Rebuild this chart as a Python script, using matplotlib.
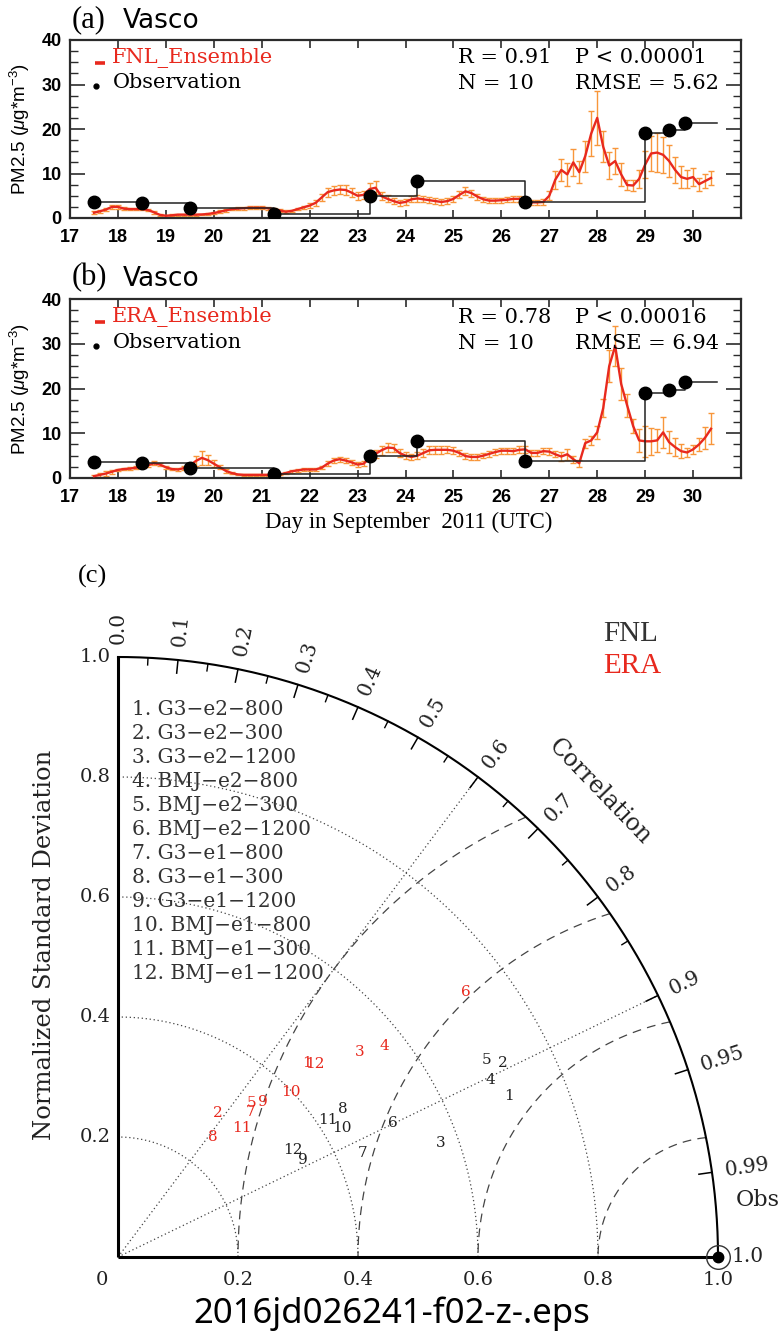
import numpy as np
import matplotlib
matplotlib.use('Agg')
import matplotlib.pyplot as plt
from matplotlib.ticker import MultipleLocator

plt.rcParams['mathtext.fontset'] = 'custom'
plt.rcParams['mathtext.rm'] = 'Liberation Sans'
plt.rcParams['mathtext.it'] = 'Liberation Sans:italic'

# ---------------- data: time series (3-hourly ensemble mean / spread) ----------------
t_start, t_step, n_pts = 17.5, 0.125, 104
fnl_mean = [1.2, 1.5, 1.9, 2.5, 2.5, 2.1, 2.0, 2.0,
            2.0, 1.8, 1.3, 0.7, 0.5, 0.6, 0.75, 0.75,
            0.75, 0.75, 0.8, 0.9, 1.1, 1.4, 1.7, 2.0,
            2.1, 2.2, 2.3, 2.3, 2.3, 2.2, 2.0, 1.7,
            1.4, 1.6, 2.0, 2.4, 2.8, 3.4, 4.6, 5.8,
            6.2, 6.4, 6.3, 5.7, 5.0, 5.2, 6.5, 6.8,
            4.9, 4.3, 3.8, 3.4, 3.6, 4.2, 4.4, 4.2,
            4.0, 3.8, 3.6, 3.8, 4.3, 5.2, 6.0, 5.6,
            4.8, 4.2, 3.9, 3.9, 4.0, 4.1, 4.3, 4.3,
            3.8, 3.5, 3.5, 3.6, 5.0, 8.6, 10.8, 9.8,
            12.5, 10.3, 13.9, 19.0, 22.5, 16.0, 11.8, 12.8,
            9.8, 7.4, 7.3, 8.8, 12.0, 14.5, 14.7, 14.2,
            12.8, 10.8, 9.2, 8.8, 9.2, 7.6, 8.3, 9.0]
fnl_err = [0.3, 0.3, 0.4, 0.5, 0.5, 0.4, 0.3, 0.3,
           0.3, 0.3, 0.3, 0.3, 0.2, 0.2, 0.2, 0.2,
           0.2, 0.2, 0.2, 0.2, 0.2, 0.3, 0.3, 0.3,
           0.3, 0.3, 0.3, 0.3, 0.3, 0.3, 0.3, 0.3,
           0.3, 0.3, 0.3, 0.4, 0.5, 0.6, 0.8, 1.0,
           1.1, 1.1, 1.1, 1.0, 0.9, 0.9, 1.3, 1.5,
           0.9, 0.8, 0.7, 0.6, 0.6, 0.7, 0.7, 0.7,
           0.7, 0.7, 0.7, 0.7, 0.7, 0.8, 0.9, 0.8,
           0.7, 0.6, 0.6, 0.6, 0.6, 0.6, 0.6, 0.6,
           0.6, 0.6, 0.6, 0.6, 1.0, 2.0, 2.5, 2.5,
           3.0, 2.5, 3.5, 5.0, 6.0, 3.5, 3.0, 3.0,
           2.5, 1.2, 1.2, 2.0, 3.0, 4.0, 4.3, 4.0,
           3.5, 3.0, 2.5, 2.0, 2.0, 1.5, 1.5, 1.5]
era_mean = [0.4, 0.7, 1.0, 1.4, 1.8, 2.0, 2.1, 2.3,
            2.5, 2.8, 3.3, 3.0, 2.4, 2.0, 1.9, 2.2,
            2.8, 3.8, 4.5, 4.0, 3.2, 2.4, 1.6, 1.1,
            0.8, 0.7, 0.7, 0.7, 0.7, 0.7, 0.7, 0.8,
            1.1, 1.5, 1.7, 1.9, 1.9, 1.9, 2.3, 3.2,
            3.9, 4.2, 3.9, 3.5, 3.0, 3.2, 4.4, 5.4,
            6.2, 6.8, 6.7, 5.6, 5.0, 4.7, 5.0, 5.6,
            6.2, 6.3, 6.3, 6.3, 6.1, 5.6, 4.9, 4.7,
            4.7, 5.0, 5.4, 5.8, 6.1, 6.1, 6.0, 6.3,
            6.4, 5.6, 5.6, 6.0, 5.9, 5.3, 4.8, 5.3,
            4.2, 3.3, 7.8, 8.4, 10.2, 15.6, 25.0, 29.5,
            21.0, 16.2, 11.6, 8.4, 8.2, 8.2, 8.4, 10.2,
            8.0, 6.9, 6.0, 5.7, 6.4, 7.5, 9.0, 11.0]
era_err = [0.3, 0.4, 0.5, 0.4, 0.3, 0.3, 0.3, 0.3,
           0.3, 0.4, 0.5, 0.4, 0.3, 0.3, 0.3, 0.4,
           0.6, 1.2, 1.5, 1.2, 0.8, 0.5, 0.4, 0.3,
           0.2, 0.2, 0.2, 0.2, 0.2, 0.2, 0.2, 0.2,
           0.2, 0.3, 0.3, 0.3, 0.3, 0.3, 0.4, 0.5,
           0.6, 0.6, 0.6, 0.5, 0.5, 0.5, 0.7, 0.9,
           1.0, 1.1, 1.0, 0.8, 0.7, 0.7, 0.7, 0.8,
           0.9, 0.9, 0.9, 0.8, 0.8, 0.7, 0.6, 0.6,
           0.6, 0.6, 0.6, 0.7, 0.7, 0.7, 0.7, 0.8,
           0.8, 0.7, 0.7, 0.7, 0.7, 0.7, 1.0, 1.2,
           0.8, 0.8, 1.0, 1.0, 1.5, 2.0, 3.5, 4.5,
           3.5, 2.5, 1.5, 2.5, 3.5, 3.0, 2.5, 3.5,
           2.5, 2.0, 1.5, 1.0, 1.0, 1.5, 2.5, 3.5]

obs_day = [17.5, 18.5, 19.5, 21.25, 23.25, 24.25, 26.5, 29.0, 29.5, 29.83]
obs_val = [3.6, 3.3, 2.3, 1.0, 5.0, 8.3, 3.7, 19.1, 19.7, 21.4]
obs_end = 30.5

day_ticks = list(range(17, 31))
panel_titles = ['(a)', '(b)']
ens_names = ['FNL_Ensemble', 'ERA_Ensemble']
stats_left = [['R = 0.91', 'N = 10'], ['R = 0.78', 'N = 10']]
stats_right = [['P < 0.00001', 'RMSE = 5.62'], ['P < 0.00016', 'RMSE = 6.94']]

# ---------------- data: Taylor diagram ----------------
fnl_std = [0.705, 0.719, 0.571, 0.687, 0.697, 0.509, 0.443, 0.449, 0.348, 0.431, 0.418, 0.342]
fnl_corr = [0.925, 0.893, 0.943, 0.903, 0.882, 0.899, 0.921, 0.835, 0.885, 0.866, 0.838, 0.854]
era_std = [0.451, 0.292, 0.528, 0.567, 0.340, 0.729, 0.328, 0.255, 0.354, 0.398, 0.298, 0.460]
era_corr = [0.698, 0.571, 0.762, 0.784, 0.654, 0.795, 0.676, 0.620, 0.684, 0.722, 0.694, 0.714]
exp_names = ['G3\u2212e2\u2212800', 'G3\u2212e2\u2212300', 'G3\u2212e2\u22121200',
             'BMJ\u2212e2\u2212800', 'BMJ\u2212e2\u2212300', 'BMJ\u2212e2\u22121200',
             'G3\u2212e1\u2212800', 'G3\u2212e1\u2212300', 'G3\u2212e1\u22121200',
             'BMJ\u2212e1\u2212800', 'BMJ\u2212e1\u2212300', 'BMJ\u2212e1\u22121200']
corr_major = [0.0, 0.1, 0.2, 0.3, 0.4, 0.5, 0.6, 0.7, 0.8, 0.9, 0.95, 0.99, 1.0]
corr_major_lbl = ['0.0', '0.1', '0.2', '0.3', '0.4', '0.5', '0.6', '0.7', '0.8', '0.9', '0.95', '0.99', '1.0']
corr_minor = [0.05, 0.15, 0.25, 0.35, 0.45, 0.55, 0.65, 0.75, 0.85]
std_ticks = [0.2, 0.4, 0.6, 0.8, 1.0]
std_lbl = ['0.2', '0.4', '0.6', '0.8', '1.0']
std_arcs = [0.2, 0.4, 0.6, 0.8]
rms_arcs = [0.2, 0.4, 0.6, 0.8]
corr_rays = [0.6, 0.9]

# ---------------- figure ----------------
W, H = 781, 1339
fig = plt.figure(figsize=(W / 100, H / 100), dpi=100)
RED = '#E8291E'
ORANGE = '#F8963A'
FRAME = '#2b2b2b'
SERIF = 'DejaVu Serif'
TIMES = 'Liberation Serif'


def px_axes(left, top, right, bottom):
    return fig.add_axes([left / W, 1 - bottom / H, (right - left) / W, (bottom - top) / H])


t = t_start + t_step * np.arange(n_pts)
panels = [(px_axes(70, 40, 741, 218), fnl_mean, fnl_err),
          (px_axes(70, 299, 741, 478), era_mean, era_err)]

for i, (ax, mean, err) in enumerate(panels):
    ax.errorbar(t, mean, yerr=err, fmt='none', ecolor=ORANGE, elinewidth=1.0,
                capsize=2.2, capthick=1.0, zorder=2)
    ax.plot(t, mean, color=RED, lw=1.7, zorder=3)
    ax.step(obs_day + [obs_end], obs_val + [obs_val[-1]], where='post',
            color='#222222', lw=1.1, zorder=4)
    ax.plot(obs_day, obs_val, 'o', color='black', ms=9, zorder=5)
    ax.set_xlim(17, 31)
    ax.set_ylim(0, 40)
    ax.set_xticks(day_ticks)
    ax.set_yticks([0, 10, 20, 30, 40])
    ax.yaxis.set_minor_locator(MultipleLocator(2.5))
    ax.tick_params(axis='both', which='both', direction='in', top=True, right=True,
                   colors=FRAME, labelcolor='black')
    ax.tick_params(axis='x', which='major', length=6, width=1.2, pad=8)
    ax.tick_params(axis='y', which='major', length=11, width=1.2, pad=6)
    ax.tick_params(axis='y', which='minor', length=6, width=1.0)
    for lab in ax.get_xticklabels() + ax.get_yticklabels():
        lab.set_fontfamily('Liberation Sans')
        lab.set_fontweight('bold')
        lab.set_fontsize(13)
    for sp in ax.spines.values():
        sp.set_color(FRAME)
        sp.set_linewidth(1.6)
    ax.set_ylabel(r'PM2.5 ($\mu$g*m$^{-3}$)', fontsize=13.5, family='Liberation Sans')
    ax.yaxis.set_label_coords(-0.056, 0.5)

    # legend
    ax.plot([0.037, 0.052], [0.872, 0.872], transform=ax.transAxes, color=RED, lw=2.6,
            solid_capstyle='butt', clip_on=False)
    ax.text(0.062, 0.872, ens_names[i], transform=ax.transAxes, color=RED,
            fontsize=15, family=SERIF, va='baseline', ha='left')
    ax.plot([0.039], [0.74], 'o', transform=ax.transAxes, color='black', ms=3.5, clip_on=False)
    ax.text(0.064, 0.728, 'Observation', transform=ax.transAxes, color='black',
            fontsize=15, family=SERIF, va='baseline', ha='left')
    # statistics
    for j in range(2):
        yy = 0.868 - j * 0.145
        ax.text(0.578, yy, stats_left[i][j], transform=ax.transAxes, fontsize=15,
                family=SERIF, va='baseline', ha='left')
        ax.text(0.753, yy, stats_right[i][j], transform=ax.transAxes, fontsize=15,
                family=SERIF, va='baseline', ha='left')

# panel titles
for i, ytop in enumerate([20, 278]):
    fig.text(72 / W, 1 - ytop / H, panel_titles[i], fontsize=22, family=TIMES,
             va='center', ha='left')
    fig.text(123 / W, 1 - (ytop + 1) / H, 'Vasco', fontsize=19, family='DejaVu Sans',
             va='center', ha='left')

panels[1][0].set_xlabel('Day in September  2011 (UTC)', fontsize=16.5, family=TIMES)
panels[1][0].xaxis.set_label_coords(0.505, -0.19)

# ---------------- Taylor diagram ----------------
OX, OY, S = 118, 1257, 600.0
top_px = 560
tay = fig.add_axes([0, 0, 1, (H - top_px) / H])
tay.set_xlim(-OX / S, (W - OX) / S)
tay.set_ylim(-(H - OY) / S, (OY - top_px) / S)
tay.axis('off')

th = np.linspace(0, np.pi / 2, 300)
GRID = '#444444'
for r in std_arcs:
    tay.plot(r * np.cos(th), r * np.sin(th), color=GRID, lw=0.9, ls=(0, (1, 2.2)))
for c in corr_rays:
    a = np.arccos(c)
    tay.plot([0, np.cos(a)], [0, np.sin(a)], color=GRID, lw=0.9, ls=(0, (1, 2.2)))
for r in rms_arcs:
    ph = np.linspace(np.arccos(-r / 2), np.pi, 200)
    tay.plot(1 + r * np.cos(ph), r * np.sin(ph), color=GRID, lw=0.9, ls=(0, (7, 5)))

tay.plot(np.cos(th), np.sin(th), color='black', lw=1.5)
tay.plot([0, 0], [0, 1], color='black', lw=2.2, solid_capstyle='butt')
tay.plot([0, 1], [0, 0], color='black', lw=2.2, solid_capstyle='butt')

for c in corr_major[1:-1]:
    a = np.arccos(c)
    tay.plot([np.cos(a), 0.978 * np.cos(a)], [np.sin(a), 0.978 * np.sin(a)], color='black', lw=1.1)
for c in corr_minor:
    a = np.arccos(c)
    tay.plot([np.cos(a), 0.988 * np.cos(a)], [np.sin(a), 0.988 * np.sin(a)], color='black', lw=1.0)
for c, lab in zip(corr_major, corr_major_lbl):
    a = np.arccos(c)
    tay.text(1.022 * np.cos(a), 1.022 * np.sin(a), lab, rotation=np.degrees(a),
             rotation_mode='anchor', ha='left', va='center', fontsize=14.5, family=SERIF,
             color='#222222')
tay.text(1.116 * np.cos(np.radians(44)), 1.116 * np.sin(np.radians(44)), 'Correlation',
         rotation=-46, rotation_mode='anchor', ha='center', va='center', fontsize=17,
         family=SERIF, color='#222222')

for v, lab in zip(std_ticks, std_lbl):
    tay.text(-0.012, v, lab, ha='right', va='center', fontsize=14, family=SERIF, color='#222222')
    tay.text(v, -0.038, lab, ha='center', va='center', fontsize=14, family=SERIF, color='#222222')
tay.text(-0.027, -0.038, '0', ha='center', va='center', fontsize=14, family=SERIF, color='#222222')
tay.text(-0.122, 0.52, 'Normalized Standard Deviation', rotation=90, ha='center', va='center',
         fontsize=17.5, family=SERIF, color='#222222')

# observation reference
tay.plot([1.0], [0.0], 'o', color='black', ms=7.5, clip_on=False)
tay.plot([1.0], [0.0], 'o', mfc='none', mec='#333333', mew=1.0, ms=17, clip_on=False)
tay.text(1.03, 0.095, 'Obs', ha='left', va='center', fontsize=16, family=SERIF, color='#222222')

# model points
for stds, corrs, col in [(fnl_std, fnl_corr, '#222222'), (era_std, era_corr, RED)]:
    for k, (s, c) in enumerate(zip(stds, corrs)):
        x = s * c
        y = s * np.sqrt(1 - c ** 2)
        tay.text(x, y, str(k + 1), color=col, ha='center', va='center', fontsize=11, family=SERIF)

# experiment list
for k, name in enumerate(exp_names):
    tay.text(0.023, 0.913 - 0.04 * k, f'{k + 1}. {name}', ha='left', va='center',
             fontsize=14.5, family=SERIF, color='#333333')

tay.text(0.808, 1.038, 'FNL', ha='left', va='center', fontsize=21, family=TIMES, color='#333333')
tay.text(0.808, 0.985, 'ERA', ha='left', va='center', fontsize=21, family=TIMES, color=RED)

fig.text(78 / W, 1 - 576 / H, '(c)', fontsize=19, family=TIMES, ha='left', va='center')
fig.text(392 / W, 1 - 1314 / H, '2016jd026241-f02-z-.eps', fontsize=25, family='Noto Sans',
         ha='center', va='center')

fig.savefig('out.png', dpi=100)
